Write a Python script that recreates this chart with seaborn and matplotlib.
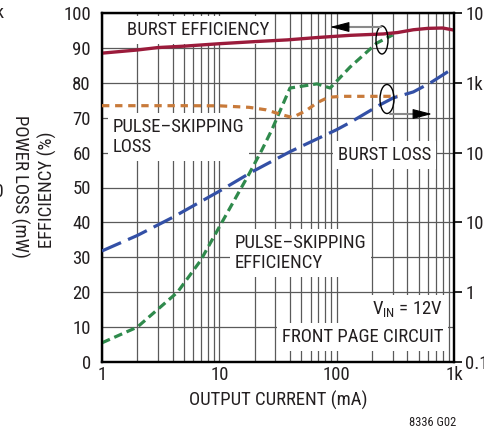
import matplotlib
matplotlib.use('Agg')
import matplotlib.pyplot as plt
import seaborn as sns
import pandas as pd
from matplotlib.patches import Ellipse
from matplotlib.ticker import NullLocator, FixedLocator, NullFormatter

# ---------------- data ----------------
burst_eff_x = [1, 2, 3, 5, 10, 20, 38, 70, 130, 250, 330, 450, 600, 800, 1000]
burst_eff_y = [88.5, 89.4, 90.1, 90.5, 91.2, 91.8, 92.3, 93.0, 93.6, 94.0, 94.4, 95.2, 95.6, 95.7, 95.1]

ps_eff_x = [1, 2, 4.4, 6.9, 10, 18, 23, 28, 40, 68, 88, 130, 220, 300]
ps_eff_y = [5.5, 10.0, 20.0, 29.0, 38.7, 54.0, 60.7, 66.5, 78.5, 79.7, 78.5, 84.5, 91.4, 93.7]

ps_loss_x = [1, 5, 10, 18, 25, 35, 42, 55, 68, 85, 110, 200, 330]
ps_loss_y = [470, 470, 468, 445, 410, 345, 318, 400, 518, 620, 640, 640, 640]

burst_loss_x = [1, 2, 4, 10, 19, 40, 100, 130, 235, 305, 450, 630, 1000]
burst_loss_y = [3.9, 6.5, 11.8, 28, 53, 103, 213, 270, 485, 610, 740, 1000, 1640]

x_ticks = [1, 10, 100, 1000]
x_ticklabels = ['1', '10', '100', '1k']
eff_ticks = list(range(0, 101, 10))
loss_ticks = [0.1, 1, 10, 100, 1000, 10000]
loss_ticklabels = ['0.1', '1', '10', '100', '1k', '10k']

# ---------------- style ----------------
sns.set_theme(style='white')
FONT = ['Roboto Condensed', 'Liberation Sans Narrow', 'DejaVu Sans Condensed', 'DejaVu Sans']
plt.rcParams['font.family'] = FONT
plt.rcParams['mathtext.fontset'] = 'custom'
plt.rcParams['mathtext.rm'] = 'Roboto Condensed'
TXT = '#231f20'
plt.rcParams['text.color'] = TXT
plt.rcParams['xtick.color'] = TXT
plt.rcParams['ytick.color'] = TXT
FS = 13.5

C_RED = '#9b1b3b'
C_GREEN = '#2f8a4c'
C_ORANGE = '#c87a3a'
C_BLUE = '#3350a6'

fig = plt.figure(figsize=(4.85, 4.33), dpi=100)
ax = fig.add_axes([102/485, 1-362/433, 352/485, 349/433])
ax.set_xscale('log')
ax.set_xlim(1, 1000)
ax.set_ylim(0, 100)
ax.set_axisbelow(True)

ax2 = ax.twinx()
ax2.set_yscale('log')
ax2.set_ylim(0.1, 10000)

# grid
ax.xaxis.set_major_locator(FixedLocator(x_ticks))
ax.set_xticklabels(x_ticklabels)
minors = [m * d for d in (1, 10, 100) for m in range(2, 10)]
ax.xaxis.set_minor_locator(FixedLocator(minors))
ax.xaxis.set_minor_formatter(NullFormatter())
ax.set_yticks(eff_ticks)
ax.grid(True, which='both', axis='x', color='#5a5a5a', lw=0.9)
ax.grid(True, which='major', axis='y', color='#5a5a5a', lw=0.9)
ax.tick_params(axis='x', which='both', length=0, pad=3, labelsize=FS)
ax.tick_params(axis='y', length=0, pad=8, labelsize=FS)

ax2.set_yticks(loss_ticks)
ax2.set_yticklabels(loss_ticklabels)
ax2.yaxis.set_minor_locator(NullLocator())
ax2.tick_params(axis='y', which='major', length=6, width=1.2, pad=2,
                direction='out', labelsize=FS, color='black')

for a in (ax, ax2):
    for s in a.spines.values():
        s.set_color('black')
        s.set_linewidth(1.6)

# ---------------- lines ----------------
df_be = pd.DataFrame({'x': burst_eff_x, 'y': burst_eff_y})
df_pe = pd.DataFrame({'x': ps_eff_x, 'y': ps_eff_y})
df_pl = pd.DataFrame({'x': ps_loss_x, 'y': ps_loss_y})
df_bl = pd.DataFrame({'x': burst_loss_x, 'y': burst_loss_y})

sns.lineplot(data=df_pe, x='x', y='y', ax=ax, color=C_GREEN, lw=2.3, zorder=4)
ax.lines[-1].set_dashes([2.7, 1.5])
sns.lineplot(data=df_be, x='x', y='y', ax=ax, color=C_RED, lw=2.4, zorder=5)

sns.lineplot(data=df_pl, x='x', y='y', ax=ax2, color=C_ORANGE, lw=2.3, zorder=4)
ax2.lines[-1].set_dashes([2.3, 1.8])
sns.lineplot(data=df_bl, x='x', y='y', ax=ax2, color=C_BLUE, lw=2.3, zorder=5)
ax2.lines[-1].set_dashes([6.5, 2.4])

ax.set_xlabel('')
ax.set_ylabel('')
ax2.set_ylabel('')
ax.set_xlim(1, 1000)
ax2.set_ylim(0.1, 10000)

# ---------------- labels in the plot ----------------
box = dict(facecolor='white', edgecolor='none', boxstyle='square,pad=0.25')
def label(x, y, s, ha='left'):
    ax.text(x, y, s, transform=ax.transAxes, ha=ha, va='center', fontsize=FS,
            bbox=box, zorder=3, linespacing=1.15)

label(0.071, 0.951, 'BURST EFFICIENCY')
label(0.031, 0.645, 'PULSE\u2013SKIPPING\nLOSS')
label(0.670, 0.593, 'BURST LOSS')
label(0.378, 0.312, 'PULSE\u2013SKIPPING\nEFFICIENCY')
label(0.969, 0.149, r'V$_{\mathrm{IN}}$ = 12V', ha='right')
label(0.969, 0.072, 'FRONT PAGE CIRCUIT', ha='right')

# ellipses and arrows (axes fraction)
def fx(px):
    return (px - 102) / 352
def fy(py):
    return (362 - py) / 349

for cx, cy, w, h in [(382, 40, 12, 28), (387, 99, 14, 29)]:
    ax2.add_patch(Ellipse((fx(cx), fy(cy)), w/352, h/349, transform=ax.transAxes,
                          fill=False, edgecolor='black', lw=1.0, zorder=10))

ax2.plot([fx(381), fx(340)], [fy(27), fy(27)], transform=ax.transAxes,
         color='#8a8a8a', lw=1.5, zorder=10)
ax2.annotate('', xy=(fx(330), fy(27)), xytext=(fx(348), fy(27)),
             xycoords='axes fraction',
             arrowprops=dict(arrowstyle='-|>,head_length=0.5,head_width=0.13',
                             mutation_scale=24, color='black', lw=0.8,
                             shrinkA=0, shrinkB=0), zorder=11)
ax2.plot([fx(390), fx(422)], [fy(114), fy(114)], transform=ax.transAxes,
         color='#8a8a8a', lw=1.5, zorder=10)
ax2.annotate('', xy=(fx(432), fy(114)), xytext=(fx(416), fy(114)),
             xycoords='axes fraction',
             arrowprops=dict(arrowstyle='-|>,head_length=0.5,head_width=0.13',
                             mutation_scale=24, color='black', lw=0.8,
                             shrinkA=0, shrinkB=0), zorder=11)

# ---------------- axis titles ----------------
fig.text(278/485, 1-400/433, 'OUTPUT CURRENT (mA)', ha='center', va='center', fontsize=FS)
fig.text(47/485, 1-190/433, 'EFFICIENCY (%)', ha='center', va='center',
         rotation=90, fontsize=FS)
fig.text(20/485, 1-186/433, 'POWER LOSS (mW)', ha='center', va='center',
         rotation=270, fontsize=FS)
fig.text(433/485, 1-422/433, '8336 G02', ha='center', va='center', fontsize=9)
# remnants of the neighbouring chart at the left edge
fig.text(5/485, 1-13/433, '10k', ha='right', va='center', fontsize=FS)
fig.text(4/485, 1-192/433, '100', ha='right', va='center', fontsize=FS)

fig.savefig('out.png', dpi=100)
